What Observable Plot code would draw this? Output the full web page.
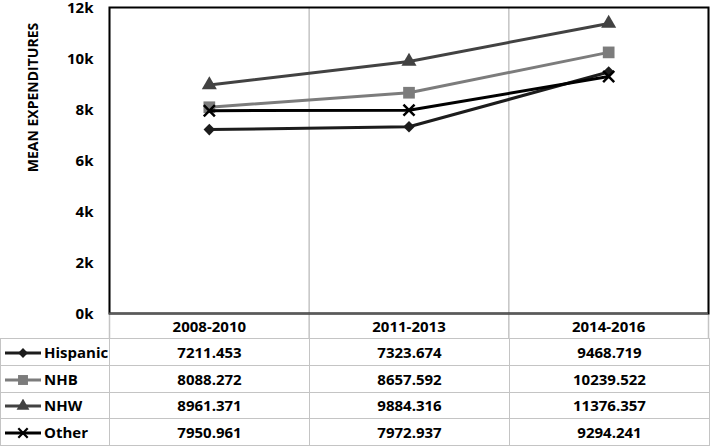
<!DOCTYPE html>
<html>
<head>
<meta charset="utf-8">
<script src="https://cdn.jsdelivr.net/npm/d3@7"></script>
<script src="https://cdn.jsdelivr.net/npm/@observablehq/plot@0.6"></script>
<style>
  html, body { margin: 0; padding: 0; background: #fff; }
  #wrap { position: relative; width: 710px; height: 448px; font-family: "Open Sans", sans-serif; font-weight: 700; }
  #wrap svg.plot { display: block; }
  #tbl { position: absolute; left: 0; top: 338px; border-collapse: collapse; table-layout: fixed; width: 710px;
         font-family: "Open Sans", sans-serif; font-weight: 700; font-size: 15px; color: #000; }
  #tbl td { border: 1px solid #c4c4c4; height: 25.75px; padding: 0; text-align: center; line-height: 20px; white-space: nowrap; }
  #tbl td.lab { text-align: left; padding-left: 3px; }
  #tbl td.lab svg { vertical-align: middle; margin-right: 2px; position: relative; top: -1px; }
</style>
</head>
<body>
<div id="wrap"></div>
<script>
const categories = ["2008-2010", "2011-2013", "2014-2016"];
const series = ["Hispanic", "NHB", "NHW", "Other"];
const hispanic = [7211.453, 7323.674, 9468.719];
const nhb = [8088.272, 8657.592, 10239.522];
const nhw = [8961.371, 9884.316, 11376.357];
const other = [7950.961, 7972.937, 9294.241];
const valueLabels = [
  ["7211.453", "7323.674", "9468.719"],
  ["8088.272", "8657.592", "10239.522"],
  ["8961.371", "9884.316", "11376.357"],
  ["7950.961", "7972.937", "9294.241"]
];
const yTicks = [0, 2000, 4000, 6000, 8000, 10000, 12000];
const yTitle = "MEAN EXPENDITURES";

const seriesValues = [hispanic, nhb, nhw, other];
const colors = ["#1c1c1c", "#7c7c7c", "#424242", "#000000"];
const symbols = ["diamond2", "square", "triangle", "times"];
const radii = [5.2, 6.6, 5.6, 5.1];
const d3symbols = [d3.symbolDiamond2, d3.symbolSquare, d3.symbolTriangle, d3.symbolTimes];

const data = series.flatMap((s, si) => seriesValues[si].map((v, i) => ({series: s, period: i, value: v})));
const edges = [-0.5, 0.5, 1.5, 2.5];

const seriesMarks = series.flatMap((s, si) => {
  const sub = data.filter(d => d.series === s);
  const isTimes = symbols[si] === "times";
  return [
    Plot.line(sub, {x: "period", y: "value", stroke: colors[si], strokeWidth: 3}),
    Plot.dot(sub, {x: "period", y: "value", symbol: symbols[si], r: radii[si],
      fill: isTimes ? "none" : colors[si], stroke: isTimes ? colors[si] : "none", strokeWidth: isTimes ? 2.5 : 0})
  ];
});

const chart = Plot.plot({
  width: 710,
  height: 340,
  marginLeft: 109,
  marginRight: 2,
  marginTop: 7,
  marginBottom: 27,
  style: {fontFamily: "'Open Sans', sans-serif", fontWeight: 700, fontSize: "15px", color: "#000", background: "white", overflow: "visible"},
  x: {type: "linear", domain: [-0.5, 2.5], axis: null},
  y: {domain: [0, 12000], axis: null},
  marks: [
    Plot.ruleX(edges, {stroke: "#c4c4c4", strokeWidth: 1.5, insetBottom: -26}),
    Plot.axisY(yTicks, {label: null, tickSize: 0, tickPadding: 16, dy: 1, tickFormat: d => d / 1000 + "k", fontSize: 15, fontWeight: 700}),
    Plot.axisX([0, 1, 2], {label: null, tickSize: 0, tickPadding: 8, tickFormat: i => categories[i], fontSize: 15, fontWeight: 700}),
    Plot.text([yTitle], {frameAnchor: "left", textAnchor: "middle", rotate: -90, dx: -76, dy: -63, fontSize: 14, fontWeight: 700, fill: "#000"}),
    ...seriesMarks,
    Plot.frame({stroke: "black", strokeWidth: 2}),
    Plot.ruleY([0], {stroke: "#5a5a5a", strokeWidth: 2})
  ]
});
chart.classList.add("plot");
const wrap = document.getElementById("wrap");
wrap.appendChild(chart);

// data table with legend keys
const table = d3.select(wrap).append("table").attr("id", "tbl");
const cg = table.append("colgroup");
cg.append("col").style("width", "109px");
categories.forEach(() => cg.append("col").style("width", "200px"));
const rows = table.selectAll("tr").data(series).join("tr");
rows.each(function(s, si) {
  const tr = d3.select(this);
  const lab = tr.append("td").attr("class", "lab");
  const sw = lab.append("svg").attr("width", 38).attr("height", 14);
  sw.append("line").attr("x1", 1).attr("x2", 37).attr("y1", 7).attr("y2", 7)
    .attr("stroke", colors[si]).attr("stroke-width", 3);
  const isTimes = symbols[si] === "times";
  sw.append("path").attr("transform", "translate(19,7)")
    .attr("d", d3.symbol(d3symbols[si], Math.PI * (radii[si] * 0.85) ** 2)())
    .attr("fill", isTimes ? "none" : colors[si])
    .attr("stroke", isTimes ? colors[si] : "none")
    .attr("stroke-width", isTimes ? 2.2 : 0);
  lab.append("span").text(s);
  valueLabels[si].forEach(v => tr.append("td").text(v));
});
</script>
</body>
</html>
